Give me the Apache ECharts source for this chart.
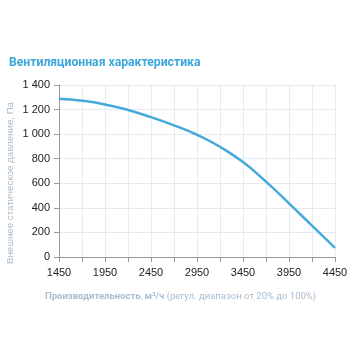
<!DOCTYPE html>
<html><head><meta charset="utf-8">
<script src="https://cdn.jsdelivr.net/npm/echarts@6/dist/echarts.min.js"></script>
<style>html,body{margin:0;padding:0;background:#fff}#c{width:356px;height:356px}</style>
</head><body><div id="c"></div>
<script>
const airflow = [1450,1700,1950,2200,2450,2700,2950,3200,3450,3700,3950,4200,4450];
const pressure = [1288,1272,1242,1197,1138,1072,995,897,773,613,437,255,75];
const xTicks = [1450,1950,2450,2950,3450,3950,4450];
const yTicks = [0,200,400,600,800,1000,1200,1400];
const titleText = 'Вентиляционная характеристика';
const yName = 'Внешнее статическое давление, Па';

const chart = echarts.init(document.getElementById('c'));
chart.setOption({
  animation:false,
  backgroundColor:'#fff',
  title:{text:titleText,left:4,top:52,textStyle:{fontFamily:'Roboto',fontWeight:'bold',fontSize:12.2,color:'#3ba7dc'}},
  grid:{left:59,right:21,top:85,bottom:99,containLabel:false},
  xAxis:{type:'value',min:1450,max:4450,interval:250,
    axisLine:{lineStyle:{color:'#9a9a9a',width:1}},
    axisTick:{show:true,length:5,inside:false,lineStyle:{color:'#9a9a9a'}},
    splitLine:{show:true,lineStyle:{color:'#e3ecf5',width:1}},
    axisLabel:{margin:10,color:'#222',fontFamily:'Liberation Sans',fontSize:11,
      formatter:v=>xTicks.includes(v)?String(v):''}},
  yAxis:{type:'value',min:0,max:1400,interval:200,
    axisLine:{show:true,lineStyle:{color:'#9a9a9a',width:1}},
    axisTick:{show:true,length:5,lineStyle:{color:'#9a9a9a'}},
    splitLine:{show:true,lineStyle:{color:'#e3ecf5',width:1}},
    axisLabel:{margin:9,color:'#222',fontFamily:'Liberation Sans',fontSize:11,
      formatter:v=>yTicks.includes(v)?String(v).replace(/\B(?=(\d{3})+(?!\d))/g,' '):''}},
  graphic:[
    {type:'text',left:5,top:102,rotation:Math.PI/2,
      style:{text:yName,fill:'#a9bccd',font:'9.7px "Liberation Sans"'}},
    {type:'text',left:45,top:292,
      style:{rich:{b:{fontWeight:'bold',fill:'#a9bccd',fontFamily:'Roboto',fontSize:9.5},
                   n:{fill:'#a9bccd',fontFamily:'Roboto',fontSize:9.5}},
        text:'{b|Производительность}{n|, }{b|м³/ч}{n| (регул. диапазон от 20% до 100%)}'}}
  ],
  series:[{type:'line',data:airflow.map((x,i)=>[x,pressure[i]]),smooth:0.5,symbol:'none',
    lineStyle:{color:'#45a9da',width:2.5}}]
});
</script></body></html>
